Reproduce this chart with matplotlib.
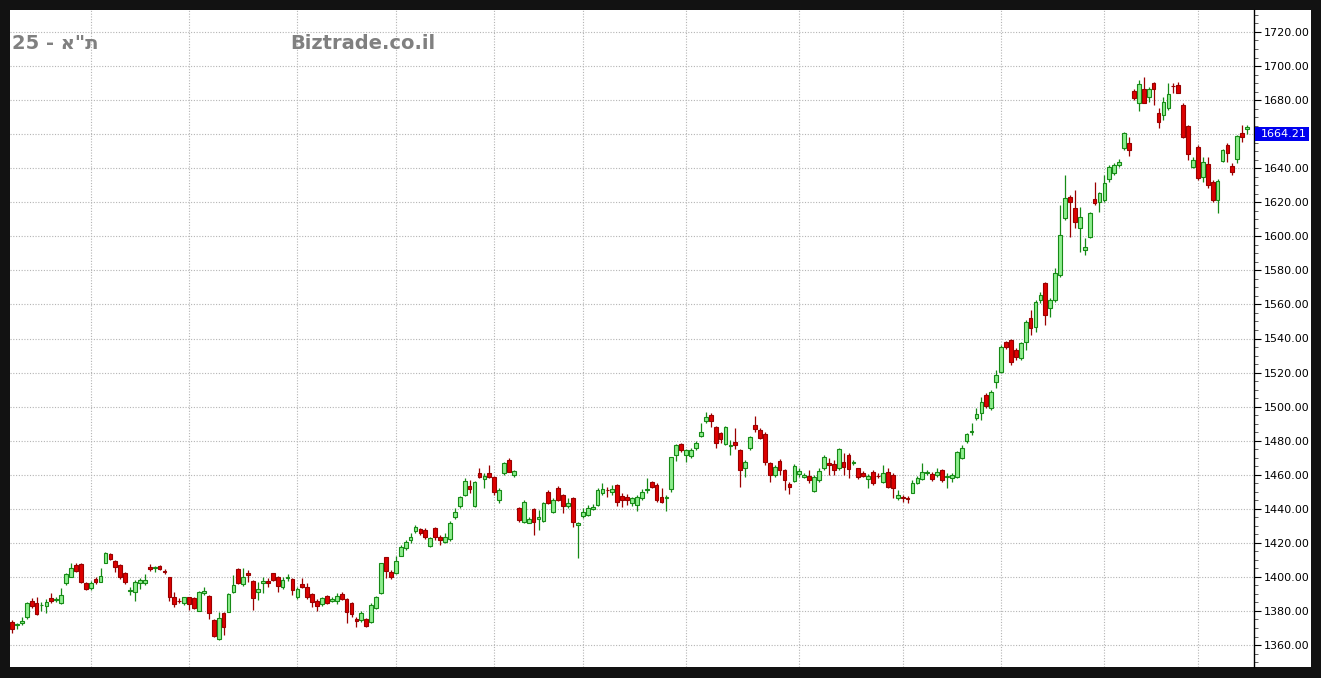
import matplotlib
matplotlib.use('Agg')
import matplotlib.pyplot as plt
import matplotlib.transforms as mtransforms
from matplotlib.patches import Rectangle
from matplotlib.ticker import MultipleLocator, FuncFormatter
import numpy as np

# ---------------- data ----------------
opens = [1373.7, 1371.5, 1373.0, 1376.5, 1385.8, 1384.7, 1383.5, 1383.1, 1387.4, 1386.6,
         1384.5, 1396.2, 1400.1, 1407.0, 1407.4, 1396.2, 1393.3, 1398.6, 1397.2, 1408.4,
         1413.3, 1409.5, 1407.0, 1402.1, 1392.0, 1391.3, 1396.2, 1396.2, 1406.0, 1405.4,
         1406.4, 1403.7, 1399.7, 1388.4, 1386.0, 1384.9, 1388.0, 1387.4, 1380.2, 1390.3,
         1389.0, 1374.7, 1363.5, 1378.6, 1379.6, 1391.3, 1404.6, 1395.8, 1402.1, 1397.8,
         1391.3, 1396.2, 1397.8, 1402.1, 1400.1, 1394.3, 1399.5, 1398.6, 1388.0, 1395.8,
         1393.9, 1389.8, 1386.0, 1383.9, 1389.0, 1386.0, 1385.8, 1389.8, 1386.8, 1384.5,
         1375.3, 1374.7, 1375.1, 1373.3, 1381.5, 1390.3, 1411.5, 1403.1, 1402.1, 1412.5,
         1416.8, 1421.7, 1427.2, 1427.9, 1427.5, 1418.1, 1428.5, 1423.2, 1420.7, 1422.3,
         1435.0, 1441.8, 1448.1, 1453.6, 1441.8, 1460.8, 1457.5, 1460.8, 1458.5, 1445.2,
         1460.8, 1468.7, 1459.8, 1440.3, 1432.4, 1431.8, 1439.7, 1434.0, 1432.8, 1450.1,
         1438.3, 1452.4, 1448.1, 1441.6, 1446.1, 1430.5, 1435.8, 1436.3, 1439.9, 1442.2,
         1449.1, 1451.2, 1450.1, 1454.0, 1447.5, 1447.1, 1443.2, 1442.2, 1446.1, 1451.2,
         1455.5, 1454.0, 1447.1, 1446.1, 1451.4, 1471.6, 1478.1, 1471.6, 1471.2, 1475.5,
         1483.0, 1491.8, 1495.1, 1487.8, 1484.3, 1477.9, 1476.9, 1479.4, 1474.5, 1463.8,
         1475.5, 1489.2, 1486.3, 1483.9, 1466.7, 1459.9, 1468.1, 1462.8, 1454.4, 1456.5,
         1460.4, 1458.5, 1459.5, 1450.6, 1456.9, 1463.8, 1467.1, 1466.3, 1463.8, 1467.7,
         1471.6, 1466.8, 1463.8, 1460.8, 1457.5, 1461.8, 1459.3, 1455.9, 1461.8, 1459.8,
         1446.1, 1446.7, 1446.3, 1449.5, 1455.0, 1457.3, 1460.8, 1460.4, 1459.9, 1462.8,
         1458.5, 1457.9, 1458.9, 1469.7, 1479.8, 1485.1, 1493.1, 1496.0, 1506.8, 1499.0,
         1514.6, 1520.5, 1538.1, 1539.1, 1533.2, 1528.3, 1538.1, 1551.8, 1546.9, 1562.6,
         1572.4, 1557.7, 1562.6, 1577.3, 1610.5, 1623.3, 1616.4, 1604.7, 1591.9, 1599.8,
         1621.7, 1620.3, 1621.3, 1633.5, 1637.0, 1641.9, 1651.7, 1654.7, 1685.4, 1678.2,
         1686.4, 1682.1, 1690.3, 1672.7, 1671.3, 1675.2, 1688.4, 1688.9, 1677.2, 1664.8,
         1640.6, 1652.3, 1635.1, 1642.5, 1632.1, 1621.4, 1644.5, 1653.7, 1641.3, 1645.3,
         1660.5, 1663.1]
highs = [1374.7, 1373.0, 1376.4, 1385.5, 1387.5, 1388.4, 1385.5, 1386.8, 1390.7, 1388.4,
         1393.3, 1402.1, 1408.4, 1408.0, 1408.0, 1397.2, 1397.5, 1400.1, 1405.0, 1414.4,
         1413.8, 1409.9, 1407.6, 1402.7, 1394.3, 1398.2, 1399.2, 1401.7, 1407.4, 1406.4,
         1407.0, 1404.4, 1400.1, 1391.3, 1387.4, 1388.4, 1388.4, 1388.4, 1391.9, 1394.3,
         1389.4, 1375.1, 1379.6, 1379.6, 1390.3, 1401.1, 1405.0, 1405.0, 1404.0, 1398.2,
         1397.2, 1400.1, 1399.2, 1402.5, 1400.5, 1399.7, 1401.5, 1399.2, 1394.3, 1399.2,
         1396.6, 1390.3, 1386.8, 1388.0, 1389.4, 1388.0, 1390.3, 1391.3, 1387.4, 1385.5,
         1376.6, 1380.2, 1375.7, 1384.5, 1388.7, 1408.4, 1411.9, 1404.0, 1412.3, 1418.5,
         1421.5, 1425.6, 1430.5, 1428.5, 1428.5, 1423.6, 1429.1, 1424.6, 1425.6, 1432.8,
         1440.3, 1447.5, 1457.9, 1457.0, 1456.5, 1463.8, 1460.8, 1465.7, 1459.0, 1452.0,
         1467.2, 1469.6, 1462.8, 1441.0, 1445.2, 1435.4, 1440.3, 1439.3, 1444.0, 1451.0,
         1446.1, 1453.4, 1448.7, 1446.1, 1446.7, 1432.4, 1440.3, 1442.2, 1442.8, 1452.4,
         1455.0, 1453.0, 1454.0, 1454.4, 1449.1, 1448.7, 1447.1, 1448.1, 1451.4, 1457.9,
         1456.5, 1455.0, 1452.0, 1448.1, 1470.6, 1478.1, 1478.8, 1474.9, 1475.5, 1480.0,
         1490.2, 1497.0, 1496.1, 1488.4, 1485.0, 1488.4, 1480.4, 1487.3, 1474.9, 1468.7,
         1482.8, 1494.5, 1487.3, 1485.3, 1467.7, 1465.7, 1469.1, 1463.2, 1455.9, 1466.1,
         1463.8, 1461.0, 1462.8, 1460.0, 1463.8, 1471.6, 1469.6, 1468.7, 1475.5, 1472.6,
         1472.6, 1468.5, 1464.2, 1462.0, 1460.3, 1462.5, 1460.8, 1465.7, 1463.8, 1460.8,
         1451.0, 1448.1, 1447.5, 1456.9, 1459.0, 1466.7, 1463.0, 1461.5, 1463.8, 1463.5,
         1460.8, 1460.8, 1474.0, 1477.5, 1484.7, 1490.2, 1499.0, 1505.8, 1507.8, 1509.7,
         1521.5, 1536.0, 1538.7, 1540.0, 1534.2, 1538.1, 1550.8, 1556.7, 1562.6, 1567.5,
         1573.3, 1563.6, 1581.2, 1618.4, 1636.0, 1624.2, 1627.2, 1617.4, 1598.8, 1614.5,
         1632.1, 1626.2, 1636.0, 1641.9, 1643.0, 1645.3, 1661.2, 1658.2, 1686.4, 1691.9,
         1693.8, 1687.9, 1690.9, 1675.2, 1682.1, 1689.9, 1689.9, 1690.9, 1678.2, 1665.4,
         1646.8, 1653.7, 1646.8, 1646.8, 1633.1, 1633.5, 1651.1, 1654.7, 1642.9, 1659.6,
         1665.4, 1665.4]
lows = [1366.9, 1369.3, 1371.7, 1375.3, 1381.5, 1377.6, 1380.2, 1379.0, 1384.9, 1385.1,
        1384.1, 1395.2, 1399.7, 1403.1, 1396.2, 1392.3, 1392.5, 1395.6, 1396.8, 1408.0,
        1409.9, 1403.1, 1398.6, 1395.6, 1389.4, 1386.0, 1392.7, 1395.2, 1403.7, 1403.1,
        1404.0, 1401.5, 1386.0, 1382.5, 1384.5, 1383.5, 1380.5, 1381.1, 1380.0, 1389.4,
        1375.1, 1365.0, 1362.9, 1365.9, 1379.2, 1390.3, 1395.6, 1394.6, 1397.2, 1380.5,
        1386.4, 1390.3, 1394.3, 1397.8, 1391.3, 1392.7, 1397.8, 1389.4, 1386.8, 1393.3,
        1386.8, 1382.5, 1380.0, 1383.1, 1383.9, 1385.0, 1384.1, 1386.4, 1372.7, 1376.6,
        1370.8, 1373.7, 1370.4, 1372.7, 1381.0, 1389.8, 1399.2, 1398.6, 1401.7, 1412.0,
        1416.0, 1419.7, 1425.6, 1424.6, 1422.3, 1417.5, 1421.7, 1418.8, 1420.0, 1421.0,
        1434.0, 1440.5, 1447.5, 1449.1, 1441.2, 1457.9, 1452.0, 1457.9, 1448.0, 1443.6,
        1460.0, 1461.4, 1458.5, 1432.5, 1431.5, 1431.5, 1424.6, 1427.5, 1432.0, 1442.6,
        1437.3, 1444.8, 1437.3, 1440.3, 1429.6, 1410.9, 1434.4, 1436.0, 1439.5, 1441.6,
        1448.1, 1447.1, 1448.1, 1441.6, 1441.2, 1442.2, 1441.6, 1438.9, 1445.2, 1449.1,
        1452.4, 1444.2, 1443.2, 1438.9, 1450.1, 1468.3, 1473.5, 1467.7, 1470.0, 1474.5,
        1482.4, 1490.6, 1488.2, 1475.5, 1478.5, 1477.5, 1471.6, 1474.9, 1453.0, 1458.9,
        1474.5, 1485.3, 1480.8, 1465.7, 1455.9, 1458.9, 1459.9, 1451.0, 1448.7, 1455.5,
        1458.9, 1458.0, 1455.3, 1449.6, 1455.9, 1462.8, 1459.9, 1459.9, 1462.8, 1459.9,
        1457.9, 1465.5, 1457.3, 1458.5, 1452.0, 1454.0, 1457.9, 1455.0, 1452.0, 1446.1,
        1445.2, 1444.2, 1443.6, 1449.1, 1454.5, 1456.9, 1459.8, 1456.5, 1458.9, 1455.9,
        1452.0, 1455.9, 1458.0, 1469.1, 1478.8, 1483.4, 1492.2, 1492.1, 1499.0, 1498.0,
        1510.7, 1519.5, 1534.0, 1524.4, 1527.3, 1527.3, 1533.2, 1542.0, 1544.0, 1560.6,
        1547.9, 1552.8, 1561.6, 1576.3, 1609.6, 1599.8, 1604.7, 1591.0, 1589.0, 1598.8,
        1618.4, 1614.5, 1620.3, 1632.1, 1636.0, 1641.0, 1650.7, 1647.4, 1680.1, 1673.3,
        1678.2, 1679.1, 1677.2, 1663.9, 1668.4, 1674.2, 1684.0, 1684.0, 1657.6, 1644.9,
        1640.0, 1633.1, 1632.1, 1628.2, 1620.4, 1613.5, 1643.9, 1643.9, 1636.1, 1642.9,
        1655.6, 1660.1]
closes = [1369.5, 1372.3, 1374.0, 1384.5, 1383.1, 1378.2, 1383.8, 1385.5, 1385.8, 1387.0,
          1389.4, 1401.5, 1405.0, 1403.7, 1396.8, 1392.9, 1396.6, 1396.8, 1400.5, 1413.8,
          1410.5, 1406.0, 1400.1, 1396.8, 1392.4, 1396.8, 1398.2, 1398.2, 1404.4, 1405.6,
          1404.4, 1402.7, 1388.4, 1383.9, 1385.7, 1388.0, 1383.9, 1381.5, 1391.3, 1391.9,
          1378.6, 1365.5, 1375.7, 1370.8, 1389.8, 1395.2, 1396.2, 1399.7, 1401.1, 1387.4,
          1392.7, 1397.8, 1396.2, 1398.2, 1394.8, 1398.2, 1400.2, 1392.3, 1392.7, 1394.3,
          1388.4, 1385.5, 1383.1, 1387.4, 1384.5, 1386.8, 1389.0, 1386.8, 1379.6, 1378.2,
          1374.1, 1378.6, 1371.2, 1383.5, 1388.4, 1408.0, 1403.7, 1399.7, 1409.5, 1417.8,
          1420.7, 1423.6, 1429.1, 1425.6, 1423.6, 1422.6, 1423.2, 1421.7, 1423.2, 1431.5,
          1438.3, 1446.7, 1456.5, 1451.4, 1455.9, 1458.9, 1459.0, 1458.5, 1450.1, 1451.0,
          1466.7, 1461.8, 1462.4, 1433.4, 1444.2, 1433.8, 1432.4, 1435.4, 1443.2, 1443.2,
          1445.2, 1445.2, 1441.8, 1443.6, 1432.0, 1431.8, 1438.3, 1440.3, 1441.2, 1451.0,
          1451.4, 1451.0, 1451.4, 1444.2, 1445.2, 1445.2, 1446.1, 1447.1, 1450.1, 1451.6,
          1453.0, 1445.2, 1444.2, 1446.9, 1470.2, 1477.5, 1474.5, 1474.5, 1474.5, 1478.8,
          1484.9, 1494.1, 1491.8, 1478.5, 1480.8, 1487.8, 1477.6, 1477.5, 1462.8, 1467.7,
          1482.0, 1486.7, 1481.4, 1467.3, 1459.9, 1464.7, 1462.8, 1456.9, 1452.6, 1465.1,
          1462.2, 1459.6, 1456.9, 1458.9, 1462.4, 1470.2, 1465.7, 1462.8, 1474.9, 1464.7,
          1463.2, 1467.2, 1458.5, 1459.3, 1459.2, 1455.0, 1459.0, 1460.8, 1453.0, 1452.0,
          1448.1, 1446.3, 1445.8, 1454.9, 1458.0, 1461.8, 1461.6, 1457.5, 1461.8, 1456.9,
          1459.5, 1459.9, 1473.6, 1475.5, 1483.9, 1485.5, 1495.5, 1502.9, 1500.4, 1508.8,
          1518.5, 1535.2, 1535.2, 1526.4, 1529.3, 1537.1, 1549.9, 1545.9, 1561.6, 1565.5,
          1553.8, 1562.6, 1578.2, 1600.8, 1622.3, 1620.3, 1608.6, 1611.5, 1593.9, 1613.5,
          1619.4, 1625.2, 1631.1, 1640.9, 1641.9, 1643.9, 1660.5, 1650.7, 1681.1, 1689.5,
          1678.5, 1686.4, 1686.4, 1667.4, 1679.1, 1683.4, 1688.0, 1684.4, 1658.6, 1648.4,
          1644.9, 1634.1, 1643.9, 1630.2, 1621.4, 1632.7, 1650.7, 1649.2, 1638.0, 1659.0,
          1658.2, 1664.21]

# first trading day of each month (vertical grid lines)
month_starts = [16, 36, 58, 78, 98, 116, 137, 160, 181, 201, 222, 241]
y_ticks = list(range(1360, 1721, 20))
title_left = '25 - א"ת'
title_site = 'Biztrade.co.il'

# ---------------- figure ----------------
W, H = 1321, 678
fig = plt.figure(figsize=(W / 100, H / 100), dpi=100, facecolor='#121212')
# white strip holding the right price scale
fig.patches.append(Rectangle((10 / W, 11 / H), (1311 - 10) / W, (667 - 10) / H,
                             transform=fig.transFigure, facecolor='white',
                             edgecolor='none', zorder=-1))
ax = fig.add_axes([10 / W, 11 / H, 1244 / W, 657 / H])
ax.set_facecolor('white')

o = np.array(opens)
h = np.array(highs)
l = np.array(lows)
c = np.array(closes)
x = np.arange(len(c))
up = c >= o

styles = [(up, '#8eee8e', '#168a16'), (~up, '#dd0000', '#9a0000')]
for mask, fill, edge in styles:
    ax.vlines(x[mask], l[mask], h[mask], color=edge, linewidth=0.9, zorder=2)
    body = np.maximum(np.abs(c - o)[mask], 0.3)
    ax.bar(x[mask], body, bottom=np.minimum(o, c)[mask], width=0.76,
           color=fill, edgecolor=edge, linewidth=0.8, zorder=3)

ax.set_xlim(-0.4, 252.4)
ax.set_ylim(1347.1, 1732.9)

# axes / ticks
for s in ['top', 'left', 'bottom']:
    ax.spines[s].set_visible(False)
ax.spines['right'].set_color('black')
ax.spines['right'].set_linewidth(1.0)

last = closes[-1]


def price_fmt(v, pos):
    # the tick label hidden behind the last-price box is not shown
    if abs(v - last) < 10:
        return ''
    return f'{v:.2f}'


ax.yaxis.tick_right()
ax.set_yticks(y_ticks)
ax.yaxis.set_major_formatter(FuncFormatter(price_fmt))
ax.yaxis.set_minor_locator(MultipleLocator(5))
ax.tick_params(axis='y', which='major', length=5, width=0.8, pad=2,
               labelsize=8, colors='black')
ax.tick_params(axis='y', which='minor', length=3, width=0.6, colors='#444444')
ax.set_xticks(month_starts)
ax.tick_params(axis='x', length=0, labelbottom=False)

ax.grid(True, which='major', color='#b4b4b4', linestyle=(0, (1, 1.5)), linewidth=0.8)
ax.set_axisbelow(True)

# last price label
trans = mtransforms.blended_transform_factory(ax.transAxes, ax.transData)
ppu = 657 / (1732.9 - 1347.1)
box_h = 14 / ppu
ax.add_patch(Rectangle((1.0008, last - box_h), 54 / 1244, box_h,
                       transform=trans, clip_on=False, facecolor='#0000ee',
                       edgecolor='none', zorder=6))
ax.text(1.0056, last - box_h / 2, f'{last:.2f}', transform=trans,
        ha='left', va='center', fontsize=8, color='white', zorder=7, clip_on=False)

# header texts
fig.text(12 / W, 1 - 49 / H, title_left, fontsize=14, fontweight='bold',
         color='#808080', ha='left', va='baseline', family=['DejaVu Sans'])
fig.text(290 / W, 1 - 49 / H, title_site, fontsize=14, fontweight='bold',
         color='#808080', ha='left', va='baseline', family=['DejaVu Sans'])

fig.savefig('out.png', dpi=100, facecolor=fig.get_facecolor())
